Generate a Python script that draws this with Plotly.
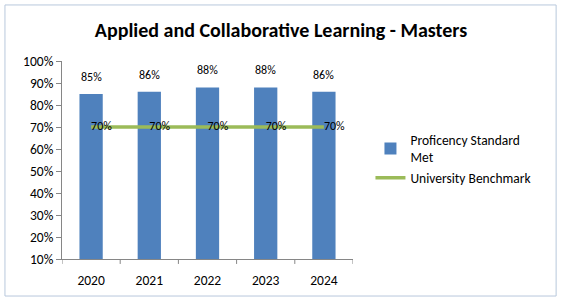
import plotly.graph_objects as go

years = ["2020", "2021", "2022", "2023", "2024"]
proficiency = [85, 86, 88, 88, 86]
benchmark = [70, 70, 70, 70, 70]
tick_vals = [10, 20, 30, 40, 50, 60, 70, 80, 90, 100]
tick_text = [f"{v}%" for v in tick_vals]

font_family = "Carlito, Calibri, 'Open Sans', 'Liberation Sans', sans-serif"

fig = go.Figure()
fig.add_trace(go.Bar(
    x=years, y=proficiency, name="Proficency Standard<br>Met",
    marker=dict(color="#4F81BD", line=dict(width=0)),
    width=0.4,
))
fig.add_trace(go.Scatter(
    x=years, y=benchmark, name="University Benchmark",
    mode="lines+text", line=dict(color="#9BBB59", width=3.5),
    text=[f"{v}%" for v in benchmark], textposition="middle right",
    textfont=dict(size=12, color="#000000"), cliponaxis=False,
))
# bar value labels (category index positions on the category axis)
for i, v in enumerate(proficiency):
    fig.add_annotation(x=i, y=v, xref="x", yref="y", text=f"{v}%",
                       showarrow=False, yanchor="bottom", yshift=8,
                       font=dict(size=12, color="#000000"))

fig.update_layout(
    width=562, height=302,
    margin=dict(l=62, r=209, t=61, b=43),
    paper_bgcolor="white", plot_bgcolor="white",
    font=dict(family=font_family, size=13, color="#000000"),
    title=dict(text="<b>Applied and Collaborative Learning - Masters</b>",
               x=0.5, xanchor="center", y=0.9, yanchor="middle",
               font=dict(size=20, color="#000000")),
    showlegend=True,
    legend=dict(x=1.06, y=0.68, xanchor="left", yanchor="top",
                font=dict(size=13.5), itemwidth=30, tracegroupgap=8,
                bgcolor="rgba(0,0,0,0)"),
    bargap=0.6,
)
fig.update_xaxes(
    type="category", categoryorder="array", categoryarray=years,
    range=[-0.5, len(years) - 0.5],
    showline=True, linecolor="#868686", linewidth=1,
    ticks="outside", ticklen=9, tickcolor="rgba(0,0,0,0)",
    showgrid=False, tickfont=dict(size=13.5),
)
fig.update_yaxes(
    range=[10, 100], tickvals=tick_vals, ticktext=tick_text,
    showline=True, linecolor="#868686", linewidth=1,
    ticks="outside", ticklen=5, tickcolor="#868686",
    showgrid=False, zeroline=False, tickfont=dict(size=13.5),
)
# category boundary tick marks on x axis
for i in range(len(years) + 1):
    fig.add_shape(type="line", xref="x", yref="paper",
                  x0=i - 0.5, x1=i - 0.5, y0=0, y1=-0.025,
                  line=dict(color="#868686", width=1))
# chart border
fig.add_shape(type="rect", xref="paper", yref="paper",
              x0=-0.196, x1=1.698, y0=-0.187, y1=1.283,
              line=dict(color="#B8C8DC", width=1))

fig.write_html("out.html")
